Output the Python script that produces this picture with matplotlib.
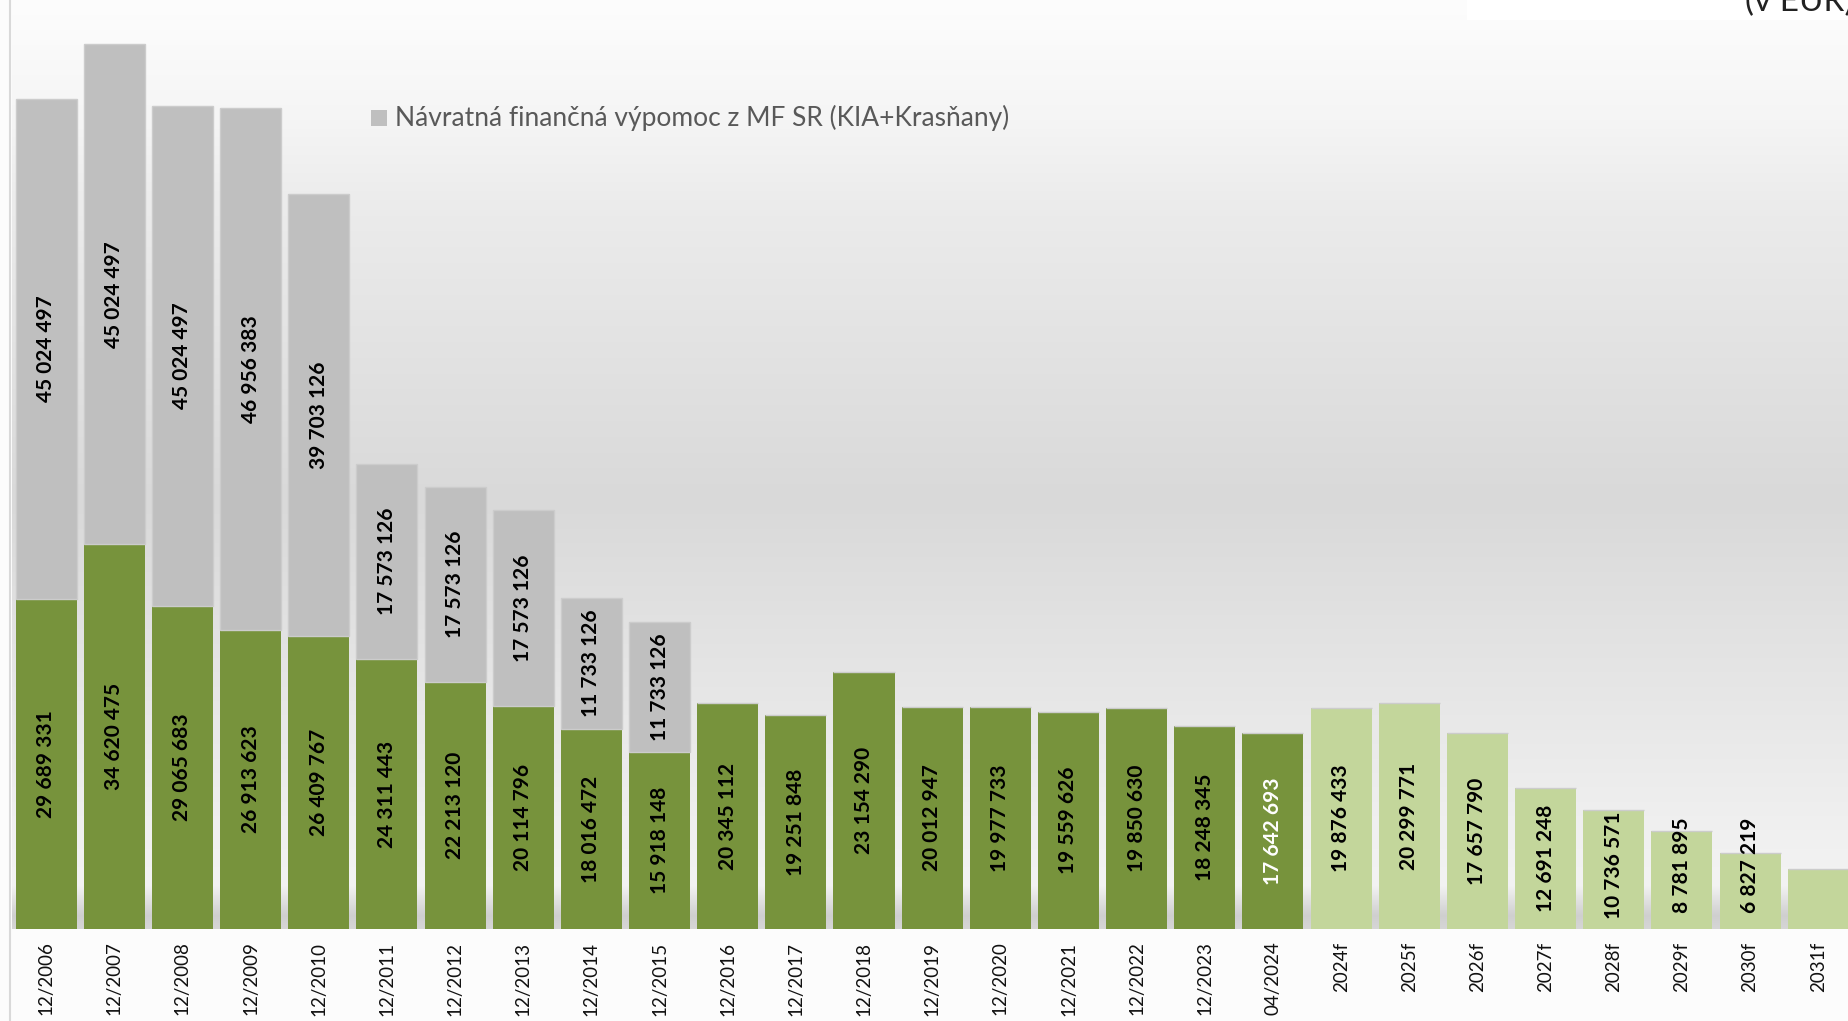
import numpy as np
import matplotlib
matplotlib.use("Agg")
import matplotlib.pyplot as plt
from matplotlib.patches import Rectangle
from matplotlib.lines import Line2D
from matplotlib.colors import to_rgb

# ---------------- data ----------------
categories = ["12/2006", "12/2007", "12/2008", "12/2009", "12/2010", "12/2011", "12/2012",
              "12/2013", "12/2014", "12/2015", "12/2016", "12/2017", "12/2018", "12/2019",
              "12/2020", "12/2021", "12/2022", "12/2023", "04/2024", "2024f", "2025f",
              "2026f", "2027f", "2028f", "2029f", "2030f", "2031f"]
own_debt = [29689331, 34620475, 29065683, 26913623, 26409767, 24311443, 22213120,
            20114796, 18016472, 15918148, 20345112, 19251848, 23154290, 20012947,
            19977733, 19559626, 19850630, 18248345, 17642693, 19876433, 20299771,
            17657790, 12691248, 10736571, 8781895, 6827219, 5440000]
mf_loan = [45024497, 45024497, 45024497, 46956383, 39703126, 17573126, 17573126,
           17573126, 11733126, 11733126, 0, 0, 0, 0, 0, 0, 0, 0, 0, 0, 0, 0, 0, 0, 0, 0, 0]
forecast = [False] * 19 + [True] * 8
show_label = [True] * 26 + [False]
legend_label = "Návratná finančná výpomoc z MF SR (KIA+Krasňany)"
unit_text = "(v EUR)"

# ---------------- style ----------------
W, H = 1848, 1021
DARK = "#77933C"
LIGHT = "#C3D69B"
GREY = "#BFBFBF"
FONT = "Lato"

fig = plt.figure(figsize=(W / 100, H / 100), dpi=100)
fig.patch.set_facecolor("#FCFCFC")

base_px = 929.0
px_per_unit = 11.11e-6
ymax = base_px / px_per_unit
left_px = 12.0
step_px = 68.16
xmin = -0.5
xmax = xmin + (W - left_px) / step_px

ax = fig.add_axes([left_px / W, (H - base_px) / H, (W - left_px) / W, base_px / H])
for s in ax.spines.values():
    s.set_visible(False)
ax.set_yticks([])

# background gradient (pixel rows from top of axes)
stops_px = [0, 120, 200, 500, 830, 885, 915, 929]
stops_col = ["#FDFDFD", "#F5F5F5", "#ECECEC", "#D9D9D9", "#F0F0F0", "#F3F3F3", "#CFCFCF", "#D6D6D6"]
rows = np.arange(0, int(base_px))
cols = np.array([to_rgb(c) for c in stops_col])
grad = np.stack([np.interp(rows, stops_px, cols[:, k]) for k in range(3)], axis=-1)
grad = grad[:, None, :]
ax.imshow(grad, extent=[xmin, xmax, 0, ymax], aspect="auto", zorder=0, interpolation="bilinear")

x = np.arange(len(categories))
width = 0.895
green_colors = [LIGHT if f else DARK for f in forecast]
ax.bar(x, own_debt, width=width, color=green_colors, zorder=2)
ax.bar(x, mf_loan, width=width, bottom=own_debt, color=GREY, edgecolor="#CCCCCC",
       linewidth=1, zorder=2)

def fmt(v):
    return f"{v:,}".replace(",", " ")

min_center = 5.7e6
for i, (g, m) in enumerate(zip(own_debt, mf_loan)):
    if not show_label[i]:
        continue
    yc = max(g / 2, min_center)
    col = "white" if categories[i] == "04/2024" else "black"
    ax.text(i, yc, fmt(g), rotation=90, ha="center", va="center", fontsize=15,
            fontweight="bold", family=FONT, color=col, zorder=3)
    if m > 0:
        ax.text(i, g + m / 2, fmt(m), rotation=90, ha="center", va="center", fontsize=15,
                fontweight="bold", family=FONT, color="black", zorder=3)

ax.set_xticks(x)
ax.set_xticklabels(categories, rotation=90, fontsize=13.5, family=FONT, color="#111111")
ax.tick_params(axis="x", length=0, pad=9)
ax.set_xlim(xmin, xmax)
ax.set_ylim(0, ymax)

# left border line
fig.add_artist(Line2D([10 / W, 10 / W], [0, 1], color="#D9D9D9", linewidth=1.5,
                      transform=fig.transFigure))

# legend (manual)
fig.add_artist(Rectangle((371 / W, 1 - 126 / H), 16 / W, 16 / H, facecolor=GREY,
                         edgecolor="none", transform=fig.transFigure))
fig.text(395 / W, 1 - 118 / H, legend_label, fontsize=19, family=FONT, color="#595959",
         ha="left", va="center")

# top-right unit box (clipped in the original screenshot)
fig.add_artist(Rectangle((1467 / W, 1 - 20 / H), (W - 1467) / W, 20 / H, facecolor="white",
                         edgecolor="none", transform=fig.transFigure))
fig.text(1745 / W, 1 - 11 / H, unit_text, fontsize=24, family=FONT, color="#222222",
         ha="left", va="baseline")

fig.savefig("out.png", dpi=100, facecolor=fig.get_facecolor())
